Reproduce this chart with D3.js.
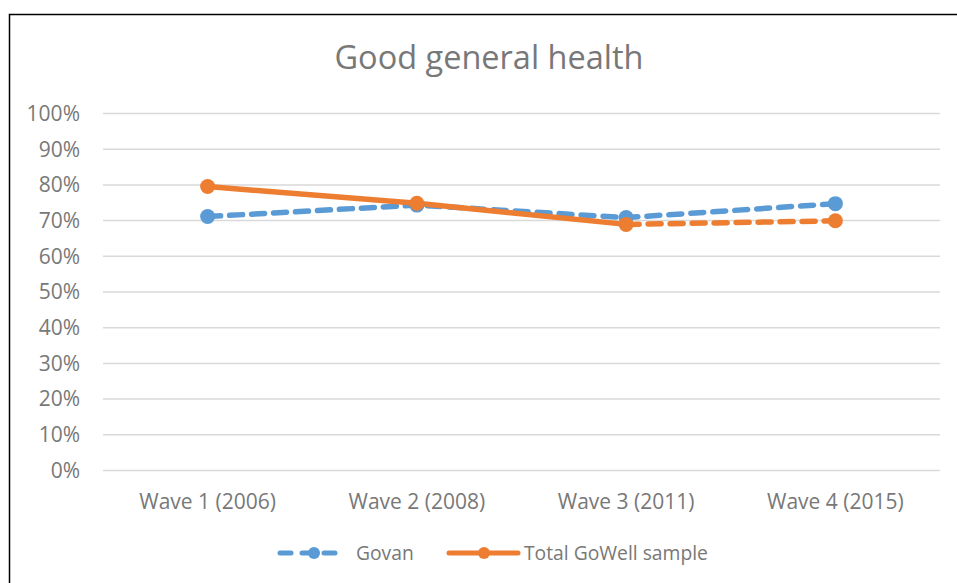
<!DOCTYPE html>
<html><head><meta charset="utf-8">
<script src="https://cdn.jsdelivr.net/npm/d3@7"></script>
<style>body{margin:0;background:#fff}svg{display:block}</style>
</head><body>
<svg id="c" width="957" height="583"></svg>
<script>
const categories = ["Wave 1 (2006)", "Wave 2 (2008)", "Wave 3 (2011)", "Wave 4 (2015)"];
const govan = [0.71, 0.742, 0.707, 0.746];
const total = [0.794, 0.747, 0.688, 0.698];
const yTicks = [0,0.1,0.2,0.3,0.4,0.5,0.6,0.7,0.8,0.9,1.0];
const seriesNames = ["Govan", "Total GoWell sample"];
const title = "Good general health";

const svg = d3.select("#c");
const FONT = "'Open Sans', sans-serif";
const TXT = "#787878";
const BLUE = "#5B9BD5", ORANGE = "#ED7D31";

svg.append("rect").attr("x",9.5).attr("y",14.5).attr("width",970).attr("height",600)
  .attr("fill","#fff").attr("stroke","#000").attr("stroke-width",1.5);

const m = {l:103, r:940, t:113, b:470};
const x = d3.scaleBand().domain(categories).range([m.l, m.r]);
const y = d3.scaleLinear().domain([0,1]).range([m.b, m.t]);

svg.append("text").attr("x",489).attr("y",69).attr("text-anchor","middle")
  .attr("font-family",FONT).attr("font-size",32.5).attr("fill",TXT).text(title);

const FS = 21, LFS = 19.3;
const yAxis = d3.axisLeft(y).tickValues(yTicks).tickFormat(d3.format(".0%")).tickSize(-(m.r-m.l)).tickPadding(23);
const gy = svg.append("g").attr("transform",`translate(${m.l},0)`).call(yAxis);
gy.select(".domain").remove();
gy.selectAll(".tick line").attr("stroke","#d9d9d9").attr("stroke-width",1.5);
gy.selectAll(".tick text").attr("font-family",FONT).attr("font-size",FS).attr("fill",TXT).attr("dy","0.35em");

const xAxis = d3.axisBottom(x).tickSize(0).tickPadding(24);
const gx = svg.append("g").attr("transform",`translate(0,${m.b})`).call(xAxis);
gx.select(".domain").remove();
gx.selectAll(".tick text").attr("font-family",FONT).attr("font-size",FS).attr("fill",TXT);

const px = i => x(categories[i]) + x.bandwidth()/2;
const line = d3.line().x(d=>px(d.i)).y(d=>y(d.v));
const DASH = "13,9";

// Govan dashed
const gd = govan.map((v,i)=>({i,v}));
svg.append("path").datum(gd).attr("d",line).attr("fill","none").attr("stroke",BLUE)
  .attr("stroke-width",5.5).attr("stroke-dasharray",DASH).attr("stroke-linecap","round");
// Total: solid for first three, dashed last segment
const td = total.map((v,i)=>({i,v}));
svg.append("path").datum(td.slice(0,3)).attr("d",line).attr("fill","none").attr("stroke",ORANGE)
  .attr("stroke-width",5.5).attr("stroke-linejoin","round");
svg.append("path").datum(td.slice(2)).attr("d",line).attr("fill","none").attr("stroke",ORANGE)
  .attr("stroke-width",5.5).attr("stroke-dasharray",DASH).attr("stroke-linecap","round");

svg.selectAll(".mb").data(gd).join("circle").attr("cx",d=>px(d.i)).attr("cy",d=>y(d.v)).attr("r",7.5).attr("fill",BLUE);
svg.selectAll(".mo").data(td).join("circle").attr("cx",d=>px(d.i)).attr("cy",d=>y(d.v)).attr("r",7.5).attr("fill",ORANGE);

// legend
const ly = 553;
const lg = svg.append("g");
lg.append("line").attr("x1",280).attr("x2",339).attr("y1",ly).attr("y2",ly).attr("stroke",BLUE)
  .attr("stroke-width",5).attr("stroke-dasharray","11,11").attr("stroke-linecap","round");
lg.append("circle").attr("cx",314).attr("cy",ly).attr("r",6).attr("fill",BLUE);
lg.append("text").attr("x",356).attr("y",ly).attr("dy","0.35em").attr("font-family",FONT)
  .attr("font-size",LFS).attr("fill",TXT).text(seriesNames[0]);
lg.append("line").attr("x1",449).attr("x2",518).attr("y1",ly).attr("y2",ly).attr("stroke",ORANGE)
  .attr("stroke-width",5).attr("stroke-linecap","round");
lg.append("circle").attr("cx",484).attr("cy",ly).attr("r",6).attr("fill",ORANGE);
lg.append("text").attr("x",524).attr("y",ly).attr("dy","0.35em").attr("font-family",FONT)
  .attr("font-size",LFS).attr("fill",TXT).text(seriesNames[1]);
</script>
</body></html>
